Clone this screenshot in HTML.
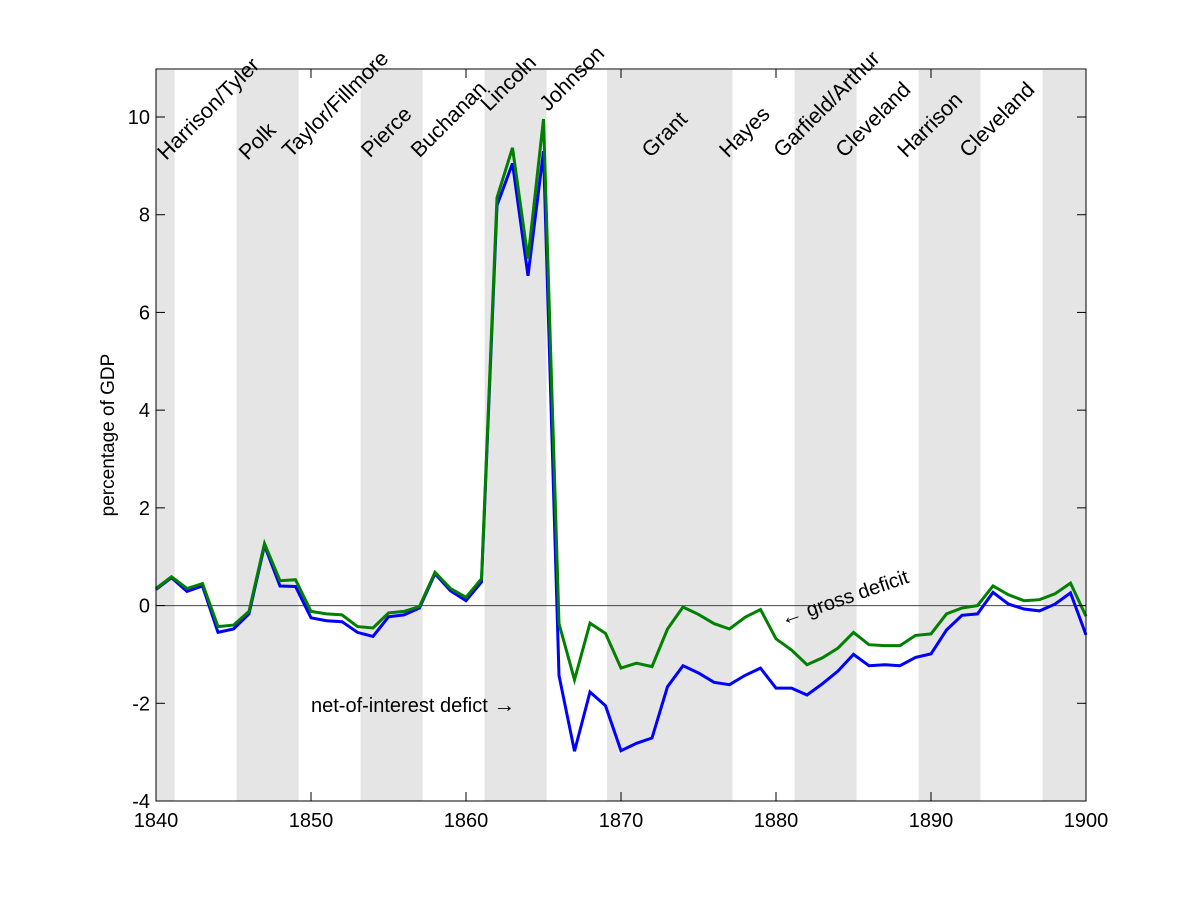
<!DOCTYPE html>
<html><head><meta charset="utf-8"><style>
body{margin:0;background:#fff;}
svg text{font-family:"Liberation Sans",sans-serif;}
</style></head><body>
<svg id="chart" width="1200" height="900" viewBox="0 0 1200 900" xmlns="http://www.w3.org/2000/svg">
<rect x="0" y="0" width="1200" height="900" fill="#fff"/>
<g id="bands"></g>
<g id="series"></g>
<g id="axes"></g>
<g id="labels"></g>
</svg>
<script>
const years = [];
for (let y = 1840; y <= 1900; y++) years.push(y);
const gross = [0.35,0.59,0.35,0.45,-0.43,-0.40,-0.12,1.27,0.51,0.53,-0.12,-0.17,-0.19,-0.43,-0.46,-0.15,-0.12,-0.02,0.68,0.35,0.17,0.55,8.35,9.37,7.1,9.96,-0.37,-1.52,-0.36,-0.57,-1.28,-1.18,-1.25,-0.48,-0.03,-0.18,-0.37,-0.48,-0.24,-0.08,-0.68,-0.91,-1.21,-1.07,-0.87,-0.55,-0.80,-0.82,-0.82,-0.61,-0.58,-0.17,-0.05,0.0,0.40,0.22,0.10,0.12,0.24,0.46,-0.22];
const net = [0.33,0.57,0.29,0.40,-0.55,-0.48,-0.17,1.23,0.40,0.39,-0.25,-0.31,-0.33,-0.55,-0.63,-0.23,-0.19,-0.05,0.65,0.30,0.10,0.48,8.19,9.05,6.75,9.3,-1.43,-2.98,-1.77,-2.05,-2.97,-2.82,-2.71,-1.66,-1.23,-1.38,-1.57,-1.62,-1.43,-1.28,-1.69,-1.69,-1.83,-1.60,-1.34,-1.00,-1.23,-1.21,-1.23,-1.06,-0.99,-0.50,-0.20,-0.17,0.27,0.03,-0.07,-0.11,0.03,0.26,-0.60];
const bandStarts = [1840,1845.2,1853.2,1861.2,1869.1,1881.2,1889.2,1897.2];
const bandEnds = [1841.2,1849.2,1857.2,1865.2,1877.2,1885.2,1893.2,1900];
const presNames = ["Harrison/Tyler","Polk","Taylor/Fillmore","Pierce","Buchanan","Lincoln","Johnson","Grant","Hayes","Garfield/Arthur","Cleveland","Harrison","Cleveland"];
const presYears = [1840.65,1845.9,1848.7,1853.8,1857.0,1861.5,1865.3,1871.9,1876.9,1880.4,1884.4,1888.4,1892.4];
const presVals = [9.1,9.1,9.15,9.15,9.15,10.1,10.1,9.15,9.15,9.15,9.15,9.15,9.15];
const xTicks = [1840,1850,1860,1870,1880,1890,1900];
const yTicks = [-4,-2,0,2,4,6,8,10];

const X0=156,X1=1086,Y0=117,Y1=801;
const xs = v => X0 + (v-1840)*(X1-X0)/60;
const ys = v => Y1 - (v+4)*(Y1-Y0)/14;
const NS="http://www.w3.org/2000/svg";
function mk(tag, attrs, parent){const e=document.createElementNS(NS,tag);for(const k in attrs)e.setAttribute(k,attrs[k]);parent.appendChild(e);return e;}
const bands=document.getElementById('bands'), series=document.getElementById('series'), axes=document.getElementById('axes'), labels=document.getElementById('labels');

bandStarts.forEach((s,i)=>{
  const r=mk('rect',{x:xs(s),y:70,width:xs(bandEnds[i])-xs(s),height:731,fill:'#e5e5e5'},bands);
  
  
});
const z=mk('line',{x1:X0,x2:X1,y1:ys(0),y2:ys(0),stroke:'#444','stroke-width':1},series);


function line(vals,color,name){
  const d=vals.map((v,i)=>(i?'L':'M')+xs(years[i]).toFixed(1)+','+ys(v).toFixed(1)).join(' ');
  const p=mk('path',{d:d,fill:'none',stroke:color,'stroke-width':3,'stroke-linejoin':'miter'},series);
  
  
}
line(net,'#0000ff','net-of-interest-line');
line(gross,'#008000','gross-deficit-line');

const fr=mk('rect',{x:X0,y:69,width:X1-X0,height:Y1-69,fill:'none',stroke:'#000','stroke-width':1},axes);


xTicks.forEach(t=>{
  const x=xs(t);
  mk('line',{x1:x,x2:x,y1:Y1,y2:Y1-9,stroke:'#000'},axes);
  mk('line',{x1:x,x2:x,y1:69,y2:78,stroke:'#000'},axes);
  const tx=mk('text',{x:x,y:827,'font-size':20,'text-anchor':'middle'},axes);
  tx.textContent=t;
  
  
});
yTicks.forEach(t=>{
  const y=ys(t);
  mk('line',{x1:X0,x2:X0+9,y1:y,y2:y,stroke:'#000'},axes);
  mk('line',{x1:X1,x2:X1-9,y1:y,y2:y,stroke:'#000'},axes);
  const tx=mk('text',{x:150,y:y+7,'font-size':20,'text-anchor':'end'},axes);
  tx.textContent=t;
  
  
});
const yl=mk('text',{x:0,y:0,'font-size':19,'text-anchor':'middle',transform:'translate(114,435) rotate(-90)'},axes);
yl.textContent='percentage of GDP';



presNames.forEach((n,i)=>{
  const x=xs(presYears[i]), y=ys(presVals[i]);
  const t=mk('text',{x:0,y:0,'font-size':21.5,transform:`translate(${x.toFixed(1)},${y.toFixed(1)}) rotate(-45)`},labels);
  t.textContent=n;
  
  
});
const g=mk('text',{x:0,y:0,'font-size':20,transform:'translate(783,626) rotate(-19)'},labels);
g.innerHTML='<tspan font-size="22">\u2190</tspan> gross deficit';


const nt=mk('text',{x:311,y:712,'font-size':20},labels);
nt.innerHTML='net-of-interest defict <tspan font-size="22">\u2192</tspan>';


</script>
</body></html>
